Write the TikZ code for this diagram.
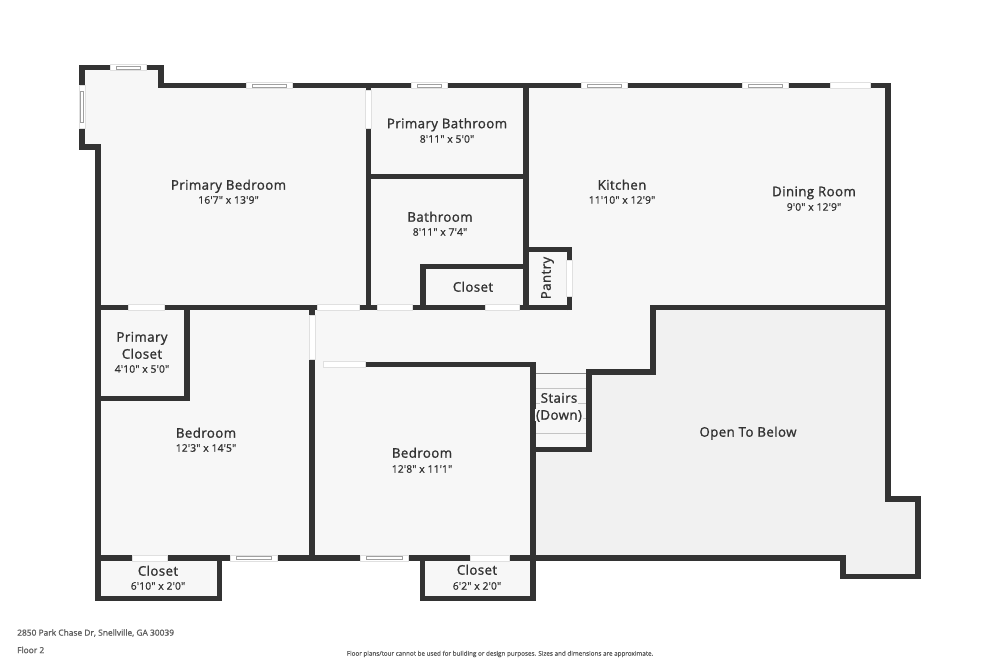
\documentclass[tikz,border=0pt]{standalone}
\usepackage{fontspec}
\newfontfamily\roomfont[FakeBold=1.3,LetterSpace=3]{Open Sans}
\newfontfamily\sizefont[FakeBold=0.8,LetterSpace=1]{Open Sans}
\newfontfamily\notefont[FakeBold=1.4]{Open Sans}
\definecolor{wallc}{HTML}{333333}
\definecolor{floorc}{HTML}{F7F7F7}
\definecolor{openc}{HTML}{F1F1F1}
\definecolor{winc}{HTML}{A0A0A0}
\definecolor{stepc}{HTML}{C4C4C4}
\tikzset{
  wall/.style={draw=wallc, line width=5.5pt, line join=miter},
  gapbox/.style={draw=black!12, fill=white, line width=0.4pt},
  winline/.style={draw=winc, line width=0.5pt},
  stairline/.style={draw=stepc, line width=0.7pt},
  room/.style={font=\roomfont\fontsize{13.3}{15}\selectfont, text=wallc, inner sep=0pt, text height=9.4pt, text depth=0pt},
  size/.style={font=\sizefont\fontsize{10.4}{12}\selectfont, text=wallc, inner sep=0pt, text height=7.4pt, text depth=0pt},
  note/.style={font=\notefont\fontsize{8.4}{10}\selectfont, text=black!62, inner sep=0pt, anchor=west},
}
\newcommand{\hdoor}[3]{% x1, x2, y
  \draw[gapbox] (#1,#3-2.9) rectangle (#2,#3+2.9);
}
\newcommand{\vdoor}[3]{% y1, y2, x
  \draw[gapbox] (#3-2.9,#1) rectangle (#3+2.9,#2);
}
\newcommand{\hwin}[3]{% x1, x2, y
  \hdoor{#1}{#2}{#3}
  \draw[winline] (#1+6,#3-1.7) rectangle (#2-6,#3+1.7);
}
\newcommand{\vwin}[3]{% y1, y2, x
  \vdoor{#1}{#2}{#3}
  \draw[winline] (#3-1.7,#1+6) rectangle (#3+1.7,#2-6);
}
\begin{document}
\begin{tikzpicture}[x=1pt,y=-1pt]
      \useasboundingbox[fill=white] (0,0) rectangle (1000,667);
      \fill[floorc] (82,67) -- (161,67) -- (161,85.5) -- (888,85.5) -- (888,499) -- (918,499) -- (918,577) -- (843,577) -- (843,558) -- (533,558) -- (533,599) -- (422,599) -- (422,558) -- (219.5,558) -- (219.5,599) -- (98,599) -- (98,147) -- (82,147) -- cycle;
      \fill[openc] (653,307.5) -- (888,307.5) -- (888,499) -- (918,499) -- (918,577) -- (843,577) -- (843,558) -- (533,558) -- (533,449) -- (589,449) -- (589,372) -- (653,372) -- cycle;
      % stairs
      \foreach \y in {388,403,418,433} \draw[stairline] (535,\y) -- (587,\y);
      \draw[stepc!70!black, line width=0.8pt] (535,373) -- (587,373);
      % walls
      \draw[wall] (98,307.5) -- (98,147) -- (82,147) -- (82,67.5) -- (161,67.5) -- (161,85.5) -- (888,85.5) -- (888,499) -- (918,499) -- (918,576.5) -- (843,576.5) -- (843,558) -- (533,558);
      \draw[wall] (98,307.5) -- (98,598.5) -- (219.5,598.5) -- (219.5,558);
      \draw[wall] (98,558) -- (533,558);
      \draw[wall] (422.5,558) -- (422.5,598.5) -- (533,598.5) -- (533,364.5) -- (323,364.5);
      \draw[wall] (533,449.5) -- (589,449.5) -- (589,372) -- (653,372) -- (653,307.5) -- (888,307.5);
      \draw[wall] (98,307.5) -- (317,307.5);
      \draw[wall] (359,307.5) -- (569,307.5);
      \draw[wall] (569.5,310) -- (569.5,249.5) -- (526,249.5);
      \draw[wall] (368.5,85.5) -- (368.5,307.5);
      \draw[wall] (368.5,176.5) -- (526,176.5);
      \draw[wall] (526,85.5) -- (526,307.5);
      \draw[wall] (423,307.5) -- (423,266.5) -- (526,266.5);
      \draw[wall] (187,307.5) -- (187,398.5) -- (98,398.5);
      \draw[wall] (312,307.5) -- (312,558);
      % doors
      \hdoor{128}{164}{307.5}
      \hdoor{317}{359}{307.5}
      \hdoor{377}{412}{307.5}
      \hdoor{485}{519}{307.5}
      \hdoor{830}{870}{85.5}
      \hdoor{323}{365}{364.5}
      \hdoor{132}{167}{558}
      \hdoor{470}{509}{558}
      \vdoor{90}{128}{368.5}
      \vdoor{315}{359}{312}
      \vdoor{260}{296}{569.5}
      % windows
      \hwin{110}{146}{67.5}
      \vwin{85}{128}{82}
      \hwin{246}{292}{85.5}
      \hwin{411}{447}{85.5}
      \hwin{581}{627}{85.5}
      \hwin{742}{788}{85.5}
      \hwin{230}{277}{558}
      \hwin{360}{408}{558}
      % labels
      \node[room] (pbed) at (228.5,185) {Primary Bedroom};
      \node[size] (pbedsize) at (228.5,200) {16'7" x 13'9"};
      \node[room] (pbath) at (447,123.5) {Primary Bathroom};
      \node[size] (pbathsize) at (447,139) {8'11" x 5'0"};
      \node[room] (kitchen) at (622,185) {Kitchen};
      \node[size] (kitchensize) at (622,200) {11'10" x 12'9"};
      \node[room] (dining) at (814,191.5) {Dining Room};
      \node[size] (diningsize) at (814,207) {9'0" x 12'9"};
      \node[room] (bath) at (440,217) {Bathroom};
      \node[size] (bathsize) at (440,232) {8'11" x 7'4"};
      \node[room] (closeta) at (473,287) {Closet};
      \node[room, rotate=90] (pantry) at (546,278) {Pantry};
      \node[room] (pcla) at (142,337) {Primary};
      \node[room] (pclb) at (142,354) {Closet};
      \node[size] (pclsize) at (142,369) {4'10" x 5'0"};
      \node[room] (beda) at (206,433) {Bedroom};
      \node[size] (bedasize) at (206,448) {12'3" x 14'5"};
      \node[room] (bedb) at (422,453) {Bedroom};
      \node[size] (bedbsize) at (422,469) {12'8" x 11'1"};
      \node[room, fill=floorc, inner sep=1pt] (stairsa) at (559,398) {Stairs};
      \node[room, fill=floorc, inner sep=1pt] (stairsb) at (559,415) {(Down)};
      \node[room] (open) at (748,432) {Open To Below};
      \node[room] (closetb) at (158,571) {Closet};
      \node[size] (closetbsize) at (158,586) {6'10" x 2'0"};
      \node[room] (closetc) at (477,570) {Closet};
      \node[size] (closetcsize) at (477,586) {6'2" x 2'0"};
      \node[note] (addr) at (17,633) {2850 Park Chase Dr, Snellville, GA 30039};
      \node[note] (level) at (17,650) {Floor 2};
      \node[note, font=\notefont\fontsize{6.3}{8}\selectfont, anchor=center] (disc) at (500,654) {Floor plans/tour cannot be used for building or design purposes. Sizes and dimensions are approximate.};
\end{tikzpicture}
\end{document}
